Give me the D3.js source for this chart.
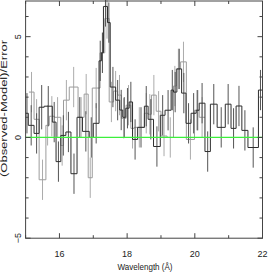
<!DOCTYPE html>
<html lang="en">
<head>
<meta charset="UTF-8">
<title>Residuals</title>
<script src="https://d3js.org/d3.v7.min.js"></script>
<style>
    body { margin: 0; background: #fff; }
    svg { display: block; }
    .lbl { font-family: "Liberation Sans", Arial, sans-serif; fill: #222; }
</style>
</head>
<body>
<svg id="chart"></svg>
<script>
// dark series: bin edges (n+1), values and errors (n)
const darkEdges = [15.00, 15.08, 15.25, 15.40, 15.55, 15.79, 15.90, 16.04, 16.19, 16.34, 16.52,
    16.68, 16.88, 17.00, 17.17, 17.24, 17.30, 17.42, 17.50, 17.66, 17.78, 17.87, 17.96, 18.06,
    18.16, 18.31, 18.51, 18.62, 18.78, 18.98, 19.12, 19.30, 19.37, 19.47, 19.61, 19.74, 19.89,
    20.04, 20.13, 20.30, 20.46, 20.66, 20.90, 21.07, 21.22, 21.39, 21.57, 21.88, 22.00];
const darkVals = [1.2, 0.6, 0.2, 1.5, 1.55, 0.76, -1.2, 0.1, 0.27, -1.8, 1.0,
    0.3, 0.0, 0.7, 3.8, 4.2, 6.5, 5.7, 2.5, 1.85, 1.36, 1.0, 1.45, 1.76,
    -0.1, 0.5, 1.55, 0.9, -0.45, 1.1, 1.35, 2.35, 2.25, 3.4, 2.2, 0.7, 1.2,
    1.35, 1.7, -0.7, 1.65, 0.5, 1.65, 0.45, 1.56, 0.35, -0.5, 2.35];
const darkErrs = [1.0, 1.0, 1.0, 1.1, 1.0, 1.0, 1.0, 1.0, 1.0, 1.0, 1.0,
    1.0, 1.0, 1.0, 1.0, 1.0, 1.0, 1.0, 1.0, 1.0, 1.0, 1.0, 1.0, 1.0,
    1.0, 1.0, 1.0, 1.0, 1.0, 1.0, 1.0, 1.0, 1.0, 1.0, 1.0, 1.0, 1.0,
    1.0, 1.0, 1.0, 1.0, 1.0, 1.0, 1.0, 1.0, 1.0, 1.0, 1.0];

// gray series
const grayEdges = [15.10, 15.25, 15.40, 15.60, 15.70, 15.85, 16.04, 16.12, 16.29, 16.55, 16.73,
    16.85, 16.97, 17.20, 17.34, 17.47, 17.60, 17.72, 17.83, 17.97, 18.11, 18.21, 18.51,
    18.62, 18.72, 18.86, 19.00, 19.18, 19.37, 19.45, 19.58, 19.75, 19.99, 20.13, 20.30];
const grayVals = [2.25, 0.9, -2.1, 0.6, 1.05, 1.0, -0.4, 1.85, 2.5, 1.0,
    2.15, -2.0, 2.45, 4.2, 5.9, 1.76, 2.3, 2.1, 0.95, 1.6, 0.45, 0.5,
    1.2, 1.15, 2.1, 1.3, 0.07, 0.0, 2.55, 3.4, 3.75, -0.1, 1.35, 1.0];
const grayErrs = [1.0, 1.0, 1.0, 1.0, 1.0, 1.0, 1.0, 1.0, 1.0, 1.0,
    1.0, 1.0, 1.0, 1.0, 1.0, 1.0, 1.0, 1.0, 1.0, 1.0, 1.0, 1.0,
    1.0, 1.0, 1.0, 1.0, 1.0, 1.0, 1.0, 1.0, 1.0, 1.0, 1.0, 1.0];

const xMajor = [16, 18, 20, 22];
const xMinor = [15, 17, 19, 21];
const yMajor = [-5, 0, 5];
const yMinor = [-4, -3, -2, -1, 1, 2, 3, 4, 6];

const W = 273, H = 273;
const svg = d3.select("#chart").attr("width", W).attr("height", H);

const x = d3.scaleLinear().domain([15, 22]).range([25.6, 262.5]);
const y = d3.scaleLinear().domain([-5, 6.77]).range([238.2, 1]);

// series drawing
function drawSeries(edges, vals, errs, lineColor, errColor) {
    const pts = vals.map((v, i) => [edges[i], v]);
    pts.push([edges[edges.length - 1], vals[vals.length - 1]]);

    svg.append("g").selectAll("line")
        .data(vals)
        .enter().append("line")
        .attr("x1", (d, i) => x((edges[i] + edges[i + 1]) / 2))
        .attr("x2", (d, i) => x((edges[i] + edges[i + 1]) / 2))
        .attr("y1", (d, i) => y(d - errs[i]))
        .attr("y2", (d, i) => y(d + errs[i]))
        .attr("stroke", errColor)
        .attr("stroke-width", 1);

    const line = d3.line()
        .x(d => x(d[0]))
        .y(d => y(d[1]))
        .curve(d3.curveStepAfter);

    svg.append("path")
        .datum(pts)
        .attr("d", line)
        .attr("fill", "none")
        .attr("stroke", lineColor)
        .attr("stroke-width", 1);
}

drawSeries(grayEdges, grayVals, grayErrs, "#9c9c9c", "#ababab");
drawSeries(darkEdges, darkVals, darkErrs, "#2e2e2e", "#555");

// zero line
svg.append("line")
    .attr("x1", x(15)).attr("x2", x(22))
    .attr("y1", y(0)).attr("y2", y(0))
    .attr("stroke", "#3cf03c")
    .attr("stroke-width", 1.2);

// frame
svg.append("rect")
    .attr("x", x(15)).attr("y", y(6.77))
    .attr("width", x(22) - x(15)).attr("height", y(-5) - y(6.77))
    .attr("fill", "none")
    .attr("stroke", "#444")
    .attr("stroke-width", 1);

// ticks, pointing inward
function ticks(vals, len, side) {
    const g = svg.append("g").attr("stroke", "#444").attr("stroke-width", 1);
    vals.forEach(v => {
        if (side === "bottom") g.append("line").attr("x1", x(v)).attr("x2", x(v)).attr("y1", y(-5)).attr("y2", y(-5) - len);
        if (side === "top") g.append("line").attr("x1", x(v)).attr("x2", x(v)).attr("y1", y(6.77)).attr("y2", y(6.77) + len);
        if (side === "left") g.append("line").attr("x1", x(15)).attr("x2", x(15) + len).attr("y1", y(v)).attr("y2", y(v));
        if (side === "right") g.append("line").attr("x1", x(22)).attr("x2", x(22) - len).attr("y1", y(v)).attr("y2", y(v));
    });
}
["bottom", "top"].forEach(s => { ticks(xMajor, 5, s); ticks(xMinor, 3, s); });
["left", "right"].forEach(s => { ticks(yMajor, 5, s); ticks(yMinor, 3, s); });

// tick labels
svg.append("g").selectAll("text")
    .data(xMajor)
    .enter().append("text")
    .attr("class", "lbl")
    .attr("x", d => x(d))
    .attr("y", 257)
    .attr("text-anchor", "middle")
    .style("font-size", "9px")
    .text(d => d);

svg.append("g").selectAll("text")
    .data(yMajor)
    .enter().append("text")
    .attr("class", "lbl")
    .attr("transform", d => "translate(21," + y(d) + ") rotate(-90)")
    .attr("text-anchor", "middle")
    .style("font-size", "9px")
    .text(d => d3.format("d")(d));

// axis titles
svg.append("text")
    .attr("class", "lbl")
    .attr("x", 145)
    .attr("y", 270)
    .attr("text-anchor", "middle")
    .attr("textLength", 55)
    .attr("lengthAdjust", "spacingAndGlyphs")
    .style("font-size", "9.5px")
    .text("Wavelength (Å)");

svg.append("text")
    .attr("class", "lbl")
    .attr("transform", "translate(7,108.5) rotate(-90)")
    .attr("text-anchor", "middle")
    .attr("textLength", 137)
    .attr("lengthAdjust", "spacingAndGlyphs")
    .style("font-size", "8.5px")
    .text("(Observed-Model)/Error");
</script>
</body>
</html>
